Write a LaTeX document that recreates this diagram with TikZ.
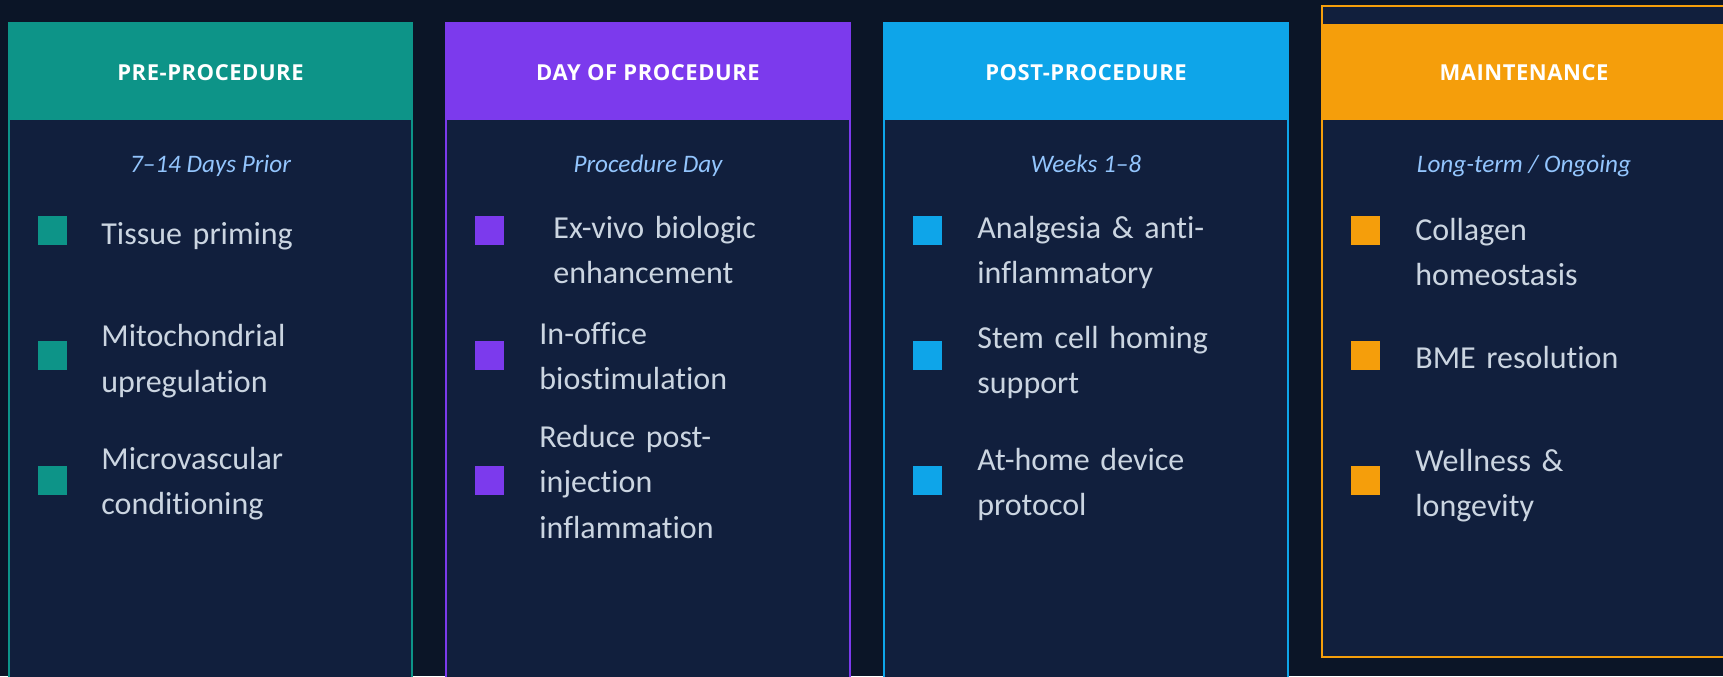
\documentclass[tikz,border=0pt]{standalone}
\usepackage{fontspec}
\setmainfont{Carlito}[Ligatures=NoCommon, UprightFeatures={WordSpace=0.75}]
\newfontfamily\headfont[LetterSpace=2.5]{Open Sans}
\usetikzlibrary{positioning}

\definecolor{page}{HTML}{0B1527}
\definecolor{card}{HTML}{111F3D}
\definecolor{tealc}{HTML}{0D9488}
\definecolor{violetc}{HTML}{7C3AED}
\definecolor{skyc}{HTML}{0EA5E9}
\definecolor{amberc}{HTML}{F59E0B}
\definecolor{itemtext}{HTML}{CBD5E1}
\definecolor{subtext}{HTML}{93C5FD}

\begin{document}
\begin{tikzpicture}[x=0.5pt, y=-0.5pt,
  head/.style={font=\headfont\bfseries\fontsize{11pt}{13pt}\selectfont, text=white, inner sep=0},
  sub/.style={font=\itshape\fontsize{12.6pt}{15pt}\selectfont, text=subtext, inner sep=0, anchor=base},
  item/.style={font=\fontsize{16pt}{22.75pt}\selectfont, text=itemtext, inner sep=0,
    anchor=base west, text width=160pt, align=left},
  bullet/.style={fill=#1, minimum size=14.5pt, inner sep=0, anchor=north west}]
  \useasboundingbox (0,0) rectangle (1723,676);
  \clip (0,0) rectangle (1723,676);
  \fill[page] (0,0) rectangle (1723,676);

  % Column 1: pre-procedure
  \filldraw[fill=card, draw=tealc, line width=1pt] (9,23) rectangle (412,700);
  \fill[tealc] (8,23) rectangle (413,120);
  \node[head] (pre-head) at (210.5,73) {PRE-PROCEDURE};
  \node[sub] (pre-sub) at (210.5,172.5) {7–14 Days Prior};
  \node[bullet=tealc] (pre-dot1) at (38,216) {};
  \node[item] (pre-item1) at (101,244) {Tissue priming};
  \node[bullet=tealc] (pre-dot2) at (38,341) {};
  \node[item] (pre-item2) at (101,346.5) {Mitochondrial\\upregulation};
  \node[bullet=tealc] (pre-dot3) at (38,466) {};
  \node[item] (pre-item3) at (101,469) {Microvascular\\conditioning};

  % Column 2: day of procedure
  \filldraw[fill=card, draw=violetc, line width=1pt] (446,23) rectangle (850,700);
  \fill[violetc] (445,23) rectangle (851,120);
  \node[head] (day-head) at (648,73) {DAY OF PROCEDURE};
  \node[sub] (day-sub) at (648,172.5) {Procedure Day};
  \node[bullet=violetc] (day-dot1) at (475,216) {};
  \node[item] (day-item1) at (553,238) {Ex-vivo biologic\\enhancement};
  \node[bullet=violetc] (day-dot2) at (475,341) {};
  \node[item] (day-item2) at (539,344) {In-office\\biostimulation};
  \node[bullet=violetc] (day-dot3) at (475,466) {};
  \node[item] (day-item3) at (539,447) {Reduce post-\\injection\\inflammation};

  % Column 3: post-procedure
  \filldraw[fill=card, draw=skyc, line width=1pt] (884,23) rectangle (1288,700);
  \fill[skyc] (883,23) rectangle (1289,120);
  \node[head] (post-head) at (1086,73) {POST-PROCEDURE};
  \node[sub] (post-sub) at (1086,172.5) {Weeks 1–8};
  \node[bullet=skyc] (post-dot1) at (913,216) {};
  \node[item] (post-item1) at (977,238) {Analgesia \& anti-\\inflammatory};
  \node[bullet=skyc] (post-dot2) at (913,341) {};
  \node[item] (post-item2) at (977,348) {Stem cell homing\\support};
  \node[bullet=skyc] (post-dot3) at (913,466) {};
  \node[item] (post-item3) at (977,470) {At-home device\\protocol};

  % Column 4: maintenance (highlighted)
  \filldraw[fill=card, draw=amberc, line width=1.3pt] (1322,6) rectangle (1745,657);
  \fill[amberc] (1321,24) rectangle (1745,120);
  \node[head] (main-head) at (1524,73) {MAINTENANCE};
  \node[sub] (main-sub) at (1524,172.5) {Long-term / Ongoing};
  \node[bullet=amberc] (main-dot1) at (1351,216) {};
  \node[item] (main-item1) at (1415,240) {Collagen\\homeostasis};
  \node[bullet=amberc] (main-dot2) at (1351,341) {};
  \node[item] (main-item2) at (1415,368.5) {BME resolution};
  \node[bullet=amberc] (main-dot3) at (1351,466) {};
  \node[item] (main-item3) at (1415,471) {Wellness \&\\longevity};
\end{tikzpicture}
\end{document}
